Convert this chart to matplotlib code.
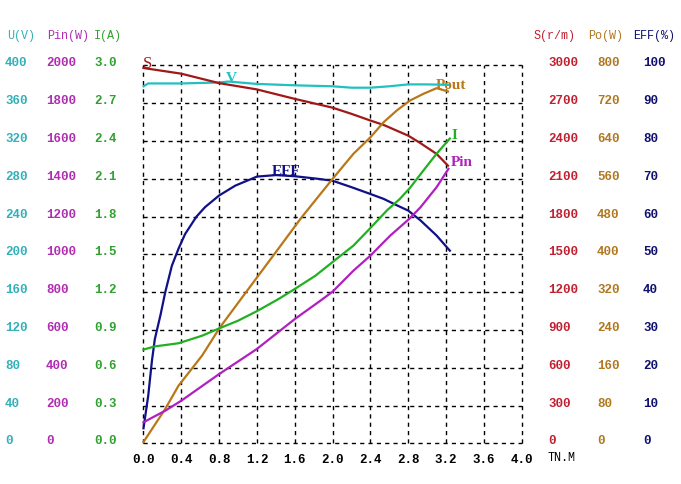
import numpy as np
import matplotlib
matplotlib.use("Agg")
import matplotlib.pyplot as plt
import matplotlib.transforms as mtransforms

# ---------- DADOS ----------
# torque TN.M
s_x = [0.0, 0.4, 0.8, 1.2, 1.6, 2.0, 2.2, 2.4, 2.54, 2.8, 2.93, 3.1, 3.22]
s_y = [2980, 2935, 2860, 2810, 2735, 2665, 2616, 2563, 2528, 2443, 2383, 2298, 2205]

u_x = [0.0, 0.05, 0.4, 0.8, 0.9, 1.2, 1.6, 2.0, 2.2, 2.4, 2.6, 2.8, 3.0, 3.22]
u_y = [378, 381, 381, 382, 383, 380.5, 379, 378, 376.5, 376.5, 378, 380, 380, 379.5]

eff_x = [0.0, 0.05, 0.09, 0.12, 0.18, 0.23, 0.3, 0.37, 0.44, 0.56, 0.65, 0.8, 0.97,
         1.2, 1.4, 1.6, 1.85, 2.0, 2.2, 2.4, 2.54, 2.68, 2.8, 2.93, 3.1, 3.24]
eff_y = [4, 12.6, 22, 27.6, 34, 40, 47, 51.5, 55.4, 60, 62.5, 65.6, 68.2,
         70.6, 71, 70.7, 70, 69.5, 67.8, 66, 64.7, 63, 61.6, 59, 55, 51]

pout_x = [0.0, 0.23, 0.37, 0.62, 0.81, 1.11, 1.4, 1.67, 2.0, 2.22, 2.4, 2.54, 2.68,
          2.82, 2.96, 3.1, 3.22]
pout_y = [3, 73, 122, 186, 246, 327, 405, 478, 560, 613, 648, 680, 705,
          726, 740, 752, 745]

i_x = [0.0, 0.12, 0.37, 0.62, 0.81, 1.0, 1.2, 1.43, 1.6, 1.82, 2.0, 2.22, 2.4,
       2.575, 2.71, 2.82, 2.96, 3.1, 3.24]
i_y = [0.745, 0.77, 0.795, 0.855, 0.916, 0.974, 1.05, 1.147, 1.226, 1.332, 1.44,
       1.57, 1.71, 1.85, 1.94, 2.03, 2.166, 2.3, 2.42]

pin_x = [0.0, 0.23, 0.4, 0.8, 1.2, 1.6, 1.87, 2.0, 2.22, 2.4, 2.61, 2.81, 2.93, 3.1, 3.225]
pin_y = [112, 173, 226, 367, 500, 658, 755, 803, 914, 994, 1100, 1188, 1250, 1356, 1453]

x_ticks = [0.0, 0.4, 0.8, 1.2, 1.6, 2.0, 2.4, 2.8, 3.2, 3.6, 4.0]
u_ticks = [0, 40, 80, 120, 160, 200, 240, 280, 320, 360, 400]
pin_ticks = [0, 200, 400, 600, 800, 1000, 1200, 1400, 1600, 1800, 2000]
i_ticks = [0.0, 0.3, 0.6, 0.9, 1.2, 1.5, 1.8, 2.1, 2.4, 2.7, 3.0]
s_ticks = [0, 300, 600, 900, 1200, 1500, 1800, 2100, 2400, 2700, 3000]
po_ticks = [0, 80, 160, 240, 320, 400, 480, 560, 640, 720, 800]
eff_ticks = [0, 10, 20, 30, 40, 50, 60, 70, 80, 90, 100]

# ---------- CORES ----------
c_u, c_u_txt = "#22c0c0", "#33b0b8"
c_pin, c_pin_txt = "#b020c0", "#b02cb0"
c_i, c_i_txt = "#22b022", "#30a030"
c_s, c_s_txt = "#a01818", "#c02030"
c_po, c_po_txt = "#b87818", "#b07820"
c_eff, c_eff_txt = "#101088", "#101070"

mono = "Liberation Mono"
serif = "Liberation Serif"

fig = plt.figure(figsize=(6.81, 4.85), dpi=100)
ax = fig.add_axes([0.2107, 0.0837, 0.5554, 0.7792])
ax.set_xlim(0, 4.0)
ax.set_ylim(0, 1)
for sp in ax.spines.values():
    sp.set_visible(False)
ax.set_xticks(x_ticks)
ax.set_xticklabels([f"{v:.1f}" for v in x_ticks], fontfamily=mono,
                   fontweight="bold", fontsize=9)
ax.set_yticks(np.linspace(0, 1, 11))
ax.set_yticklabels([])
ax.tick_params(length=0, pad=7)
ax.grid(True, color="black", linestyle=(0, (3, 3)), linewidth=1)
for gl in ax.get_xgridlines() + ax.get_ygridlines():
    gl.set_clip_on(False)

series = [
    (u_x, u_y, 400, c_u),
    (s_x, s_y, 3000, c_s),
    (eff_x, eff_y, 100, c_eff),
    (pout_x, pout_y, 800, c_po),
    (i_x, i_y, 3.0, c_i),
    (pin_x, pin_y, 2000, c_pin),
]
for xs, ys, top, col in series:
    tax = ax.twinx()
    tax.set_ylim(0, top)
    tax.axis("off")
    tax.plot(xs, ys, color=col, linewidth=1.6, clip_on=False)

# ---------- COLUNAS DE ESCALA ----------
def column(ticks, top, xfig, fmt, color):
    tr = mtransforms.blended_transform_factory(fig.transFigure, ax.transAxes)
    for v in ticks:
        fig.text(xfig, v / top, fmt.format(v), transform=tr, color=color,
                 fontfamily=mono, fontweight="bold", fontsize=9,
                 ha="left", va="baseline")

column(u_ticks, 400, 5 / 681, "{:d}", c_u_txt)
column(pin_ticks, 2000, 46 / 681, "{:d}", c_pin_txt)
column(i_ticks, 3.0, 94 / 681, "{:.1f}", c_i_txt)
column(s_ticks, 3000, 548 / 681, "{:d}", c_s_txt)
column(po_ticks, 800, 597 / 681, "{:d}", c_po_txt)
column(eff_ticks, 100, 643 / 681, "{:d}", c_eff_txt)

headers = [
    ("U(V)", 7, c_u_txt),
    ("Pin(W)", 47, c_pin_txt),
    ("I(A)", 94, c_i_txt),
    ("S(r/m)", 533, c_s_txt),
    ("Po(W)", 588, c_po_txt),
    ("EFF(%)", 633, c_eff_txt),
]
for txt, px, col in headers:
    fig.text(px / 681, 1 - 35.5 / 485, txt, color=col, fontfamily=mono,
             fontsize=8.5, ha="left", va="center")

fig.text(548 / 681, 1 - 458.5 / 485, "TN.M", color="black", fontfamily=mono,
         fontsize=8.5, ha="left", va="center")

# ---------- RÓTULOS DAS CURVAS ----------
labels = [
    ("S", 0.045, 1.007, c_s, "normal", 12),
    ("V", 0.931, 0.967, c_u, "bold", 11),
    ("EFF", 1.513, 0.721, c_eff, "bold", 11),
    ("Pout", 3.254, 0.951, c_po, "bold", 11),
    ("I", 3.291, 0.818, c_i, "bold", 11),
    ("Pin", 3.37, 0.745, c_pin, "bold", 11),
]
for txt, lx, ly, col, w, fs in labels:
    ax.text(lx, ly, txt, color=col, fontfamily=serif, fontweight=w,
            fontsize=fs, ha="center", va="center", clip_on=False, zorder=5)

fig.savefig("out.png", dpi=100, facecolor="white")
